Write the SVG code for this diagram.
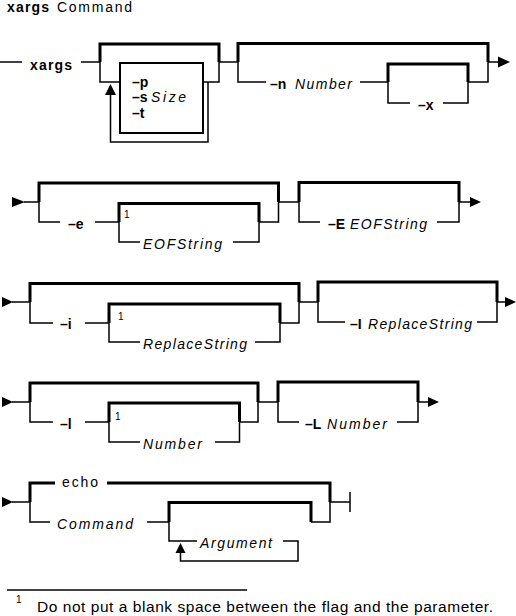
<svg xmlns="http://www.w3.org/2000/svg" width="516" height="616" viewBox="0 0 516 616">
<style>
  .tk { fill:none; stroke:#000; stroke-width:3; stroke-linejoin:miter; }
  .tn { fill:none; stroke:#000; stroke-width:1.5; stroke-linejoin:miter; }
  .ah { fill:#000; stroke:none; }
  text { font-family:"Liberation Sans", Arial, Helvetica, sans-serif; font-size:14px; fill:#000; }
  .b { font-weight:bold; }
  .i { font-style:italic; }
  .sup { font-size:10px; }
  .foot { font-size:15.5px; }
</style>
<rect x="0" y="0" width="516" height="616" fill="#fff"/>

<g id="title">
  <text x="7" y="12" class="b" textLength="42" lengthAdjust="spacing">xargs</text>
  <text x="57" y="12" textLength="75" lengthAdjust="spacing">Command</text>
</g>

<g id="connectors">
  <!-- Row 1 -->
  <path class="tn" d="M0,62 H22"/>
  <path class="tn" d="M81,62 H100"/>
  <path class="tk" d="M100,62 V44 H219 V62"/>
  <path class="tn" d="M100,62 V82 H120"/>
  <path class="tn" d="M203,82 H219 V62"/>
  <path class="tn" d="M208,82 V142 H110.5 V95"/>
  <polygon class="ah" points="105,95 116,95 110.5,84"/>
  <path class="tn" d="M219,62 H238"/>
  <path class="tk" d="M238,62 V43.5 H488 V62"/>
  <path class="tn" d="M238,62 V82 H266"/>
  <path class="tn" d="M360,82 H388"/>
  <path class="tk" d="M388,82 V64 H468 V82"/>
  <path class="tn" d="M388,82 V103 H410"/>
  <path class="tn" d="M443,103 H468 V82 H488 V62 H499"/>
  <polygon class="ah" points="498,56.5 498,67.5 510,62"/>

  <!-- Row 2 -->
  <polygon class="ah" points="12,197 12,207 25,202"/>
  <path class="tn" d="M24,202 H39"/>
  <path class="tk" d="M39,202 V183 H278.5 V202"/>
  <path class="tn" d="M39,202 V222 H60"/>
  <path class="tn" d="M95,222 H119"/>
  <path class="tk" d="M119,222 V203.5 H259 V222"/>
  <path class="tn" d="M119,222 V242 H140"/>
  <path class="tn" d="M233,242 H259 V222 H278.5 V202"/>
  <path class="tn" d="M278.5,202 H299"/>
  <path class="tk" d="M299,202 V182.5 H459 V202"/>
  <path class="tn" d="M299,202 V222 H320"/>
  <path class="tn" d="M437,222 H459 V202 H471"/>
  <polygon class="ah" points="470,197 470,207 481,202"/>

  <!-- Row 3 -->
  <polygon class="ah" points="2,297 2,307 13,302"/>
  <path class="tn" d="M12,302 H30"/>
  <path class="tk" d="M30,302 V283.5 H299 V302"/>
  <path class="tn" d="M30,302 V323 H53"/>
  <path class="tn" d="M85,323 H109"/>
  <path class="tk" d="M109,323 V304 H280 V323"/>
  <path class="tn" d="M109,323 V342 H140"/>
  <path class="tn" d="M255,342 H280 V323 H299 V302"/>
  <path class="tn" d="M299,302 H318"/>
  <path class="tk" d="M318,302 V282 H497 V302"/>
  <path class="tn" d="M318,302 V322 H345"/>
  <path class="tn" d="M477,322 H497 V302 H506"/>
  <polygon class="ah" points="505,297 505,307 516,302"/>

  <!-- Row 4 -->
  <polygon class="ah" points="2,397 2,407 13,402"/>
  <path class="tn" d="M12,402 H30"/>
  <path class="tk" d="M30,402 V383 H258 V402"/>
  <path class="tn" d="M30,402 V422 H53"/>
  <path class="tn" d="M85,422 H109"/>
  <path class="tk" d="M109,422 V403 H239.5 V422"/>
  <path class="tn" d="M109,422 V442 H140"/>
  <path class="tn" d="M215,442 H239.5 V422 H258 V402"/>
  <path class="tn" d="M258,402 H278"/>
  <path class="tk" d="M278,402 V382 H418 V402"/>
  <path class="tn" d="M278,402 V422 H299"/>
  <path class="tn" d="M397,422 H418 V402 H429"/>
  <polygon class="ah" points="428,397 428,407 439,402"/>

  <!-- Row 5 -->
  <polygon class="ah" points="2,497 2,507 13,502"/>
  <path class="tn" d="M12,502 H30"/>
  <path class="tk" d="M30,502 V483 H55"/>
  <path class="tk" d="M107,483 H330 V502"/>
  <path class="tn" d="M30,502 V522 H50"/>
  <path class="tn" d="M147,522 H169"/>
  <path class="tk" d="M169,522 V502.5 H311 V522"/>
  <path class="tn" d="M169,522 V541 H197"/>
  <path class="tn" d="M283,541 H298 V561 H180.5 V553"/>
  <polygon class="ah" points="175.5,553 185.5,553 180.5,543"/>
  <path class="tn" d="M311,522 H330 V502 H350"/>
  <path class="tn" d="M350,492 V512"/>

  <!-- Footnote rule -->
  <path class="tn" d="M7,590 H247"/>
</g>

<!-- Row 1 nodes -->
<g id="n-xargs"><text x="30" y="70" class="b" textLength="42" lengthAdjust="spacing">xargs</text></g>
<g id="n-pst">
  <rect x="120" y="63" width="83" height="70" fill="none" stroke="#000" stroke-width="2"/>
  <text x="132" y="87" class="b">–p</text>
  <text x="132" y="102" class="b">–s</text>
  <text x="151" y="102" class="i" textLength="35" lengthAdjust="spacing">Size</text>
  <text x="132" y="118" class="b">–t</text>
</g>
<g id="n-n"><text x="270" y="89" class="b">–n</text><text x="295" y="89" class="i" textLength="57" lengthAdjust="spacing">Number</text></g>
<g id="n-x"><text x="418" y="110" class="b">–x</text></g>

<!-- Row 2 nodes -->
<g id="n-e"><text x="68" y="229" class="b">–e</text></g>
<g id="n-e-note"><text x="124" y="218" class="sup">1</text></g>
<g id="n-eofstring"><text x="143" y="249" class="i" textLength="79" lengthAdjust="spacing">EOFString</text></g>
<g id="n-E"><text x="328" y="229" class="b">–E</text><text x="350" y="229" class="i" textLength="77" lengthAdjust="spacing">EOFString</text></g>

<!-- Row 3 nodes -->
<g id="n-i"><text x="60" y="329" class="b">–i</text></g>
<g id="n-i-note"><text x="118" y="320" class="sup">1</text></g>
<g id="n-replacestring"><text x="143" y="349" class="i" textLength="104" lengthAdjust="spacing">ReplaceString</text></g>
<g id="n-I"><text x="350" y="329" class="b">–I</text><text x="368" y="329" class="i" textLength="104" lengthAdjust="spacing">ReplaceString</text></g>

<!-- Row 4 nodes -->
<g id="n-l"><text x="60" y="429" class="b">–l</text></g>
<g id="n-l-note"><text x="115" y="420" class="sup">1</text></g>
<g id="n-number"><text x="143" y="449" class="i" textLength="59" lengthAdjust="spacing">Number</text></g>
<g id="n-L"><text x="305" y="429" class="b">–L</text><text x="327" y="429" class="i" textLength="60" lengthAdjust="spacing">Number</text></g>

<!-- Row 5 nodes -->
<g id="n-echo"><text x="62" y="487" textLength="36" lengthAdjust="spacing">echo</text></g>
<g id="n-command"><text x="57" y="529" class="i" textLength="76" lengthAdjust="spacing">Command</text></g>
<g id="n-argument"><text x="200" y="548" class="i" textLength="72" lengthAdjust="spacing">Argument</text></g>

<!-- Footnote -->
<g id="footnote">
  <text x="16" y="603" class="sup">1</text>
  <text x="37" y="612" class="foot" textLength="456" lengthAdjust="spacing">Do not put a blank space between the flag and the parameter.</text>
</g>
</svg>
